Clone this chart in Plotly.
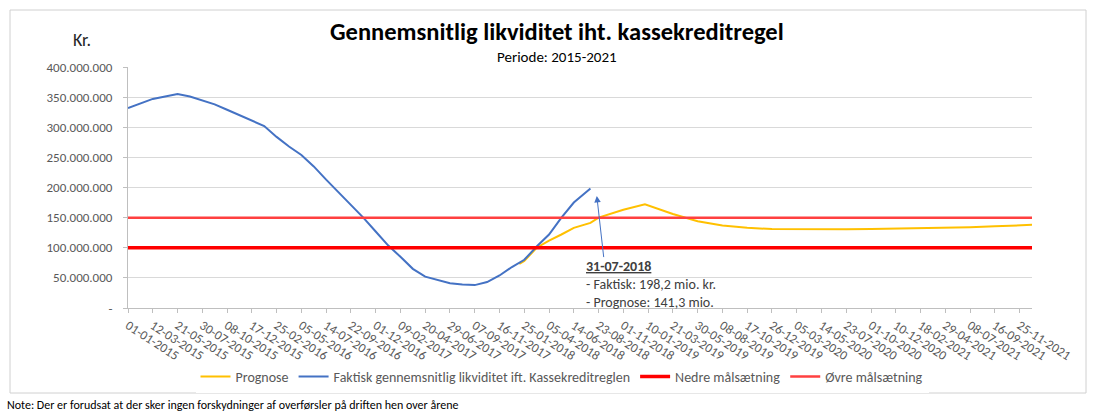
import plotly.graph_objects as go

# ---- data ----
faktisk_dates = [
    "2015-01-01", "2015-02-05", "2015-03-12", "2015-04-16", "2015-05-21", "2015-06-25",
    "2015-07-30", "2015-09-03", "2015-10-08", "2015-11-12", "2015-12-17", "2016-01-21",
    "2016-02-25", "2016-03-31", "2016-05-05", "2016-06-09", "2016-07-14", "2016-08-18",
    "2016-09-22", "2016-10-27", "2016-12-01", "2017-01-05", "2017-02-09", "2017-03-16",
    "2017-04-20", "2017-05-25", "2017-06-29", "2017-08-03", "2017-09-07", "2017-10-12",
    "2017-11-16", "2017-12-21", "2018-01-25", "2018-03-01", "2018-04-05", "2018-05-10",
    "2018-06-14", "2018-07-31",
]
faktisk_values = [
    332e6, 340e6, 347e6, 351e6, 355e6, 351e6,
    344e6, 338e6, 329e6, 320e6, 312e6, 302e6,
    284e6, 268e6, 254e6, 235e6, 213e6, 192e6,
    170e6, 150e6, 127e6, 104e6, 85e6, 65e6,
    52e6, 46e6, 41e6, 39e6, 38e6, 43e6,
    54e6, 68e6, 80e6, 102e6, 122e6, 150e6,
    175e6, 198.2e6,
]

prognose_dates = [
    "2018-01-11", "2018-01-25", "2018-03-01", "2018-04-05", "2018-05-10", "2018-06-14",
    "2018-07-31", "2018-08-23", "2018-11-01", "2019-01-01", "2019-03-21", "2019-05-30",
    "2019-08-08", "2019-10-17", "2019-12-26", "2020-03-05", "2020-05-14", "2020-07-23",
    "2020-10-01", "2020-12-10", "2021-02-18", "2021-04-29", "2021-07-08", "2021-09-16",
    "2021-11-25", "2021-12-30",
]
prognose_values = [
    73e6, 78e6, 100e6, 112e6, 122e6, 133e6,
    141.3e6, 150e6, 163e6, 172e6, 156e6, 144e6,
    137e6, 133e6, 131e6, 130.5e6, 130.5e6, 130.5e6,
    131e6, 131.5e6, 132e6, 133e6, 134e6, 135.5e6,
    137e6, 138e6,
]

maal_dates = ["2015-01-01", "2021-12-30"]
nedre_values = [100e6, 100e6]
oevre_values = [150e6, 150e6]

x_tick_labels = [
    "01-01-2015", "12-03-2015", "21-05-2015", "30-07-2015", "08-10-2015", "17-12-2015",
    "25-02-2016", "05-05-2016", "14-07-2016", "22-09-2016", "01-12-2016", "09-02-2017",
    "20-04-2017", "29-06-2017", "07-09-2017", "16-11-2017", "25-01-2018", "05-04-2018",
    "14-06-2018", "23-08-2018", "01-11-2018", "10-01-2019", "21-03-2019", "30-05-2019",
    "08-08-2019", "17-10-2019", "26-12-2019", "05-03-2020", "14-05-2020", "23-07-2020",
    "01-10-2020", "10-12-2020", "18-02-2021", "29-04-2021", "08-07-2021", "16-09-2021",
    "25-11-2021",
]
x_tick_vals = ["-".join(reversed(s.split("-"))) for s in x_tick_labels]

y_tick_vals = [0, 50e6, 100e6, 150e6, 200e6, 250e6, 300e6, 350e6, 400e6]
y_tick_labels = ["-", "50.000.000", "100.000.000", "150.000.000", "200.000.000",
                 "250.000.000", "300.000.000", "350.000.000", "400.000.000"]

FONT = "Carlito, Liberation Sans Narrow, Liberation Sans, Arial, sans-serif"

fig = go.Figure()
fig.add_trace(go.Scatter(x=prognose_dates, y=prognose_values, mode="lines", name="Prognose",
                         line=dict(color="#FFC000", width=2)))
fig.add_trace(go.Scatter(x=faktisk_dates, y=faktisk_values, mode="lines",
                         name="Faktisk gennemsnitlig likviditet ift. Kassekreditreglen",
                         line=dict(color="#4472C4", width=2)))
fig.add_trace(go.Scatter(x=maal_dates, y=nedre_values, mode="lines", name="Nedre målsætning",
                         line=dict(color="#FF0000", width=3.5)))
fig.add_trace(go.Scatter(x=maal_dates, y=oevre_values, mode="lines", name="Øvre målsætning",
                         line=dict(color="#FF4040", width=2.5)))

fig.update_layout(
    width=1095, height=412,
    margin=dict(l=128, r=63, t=67, b=104),
    paper_bgcolor="white", plot_bgcolor="white",
    font=dict(family=FONT, color="#595959", size=11),
    showlegend=True,
    legend=dict(orientation="h", x=(562 - 128) / 904, xanchor="center", y=-0.286, yanchor="middle",
                font=dict(size=14, color="#595959"), itemwidth=30, tracegroupgap=0,
                traceorder="normal"),
    xaxis=dict(type="date", range=["2015-01-01", "2021-12-30"],
               tickvals=x_tick_vals, ticktext=x_tick_labels, tickangle=33,
               tickfont=dict(size=13, color="#595959"),
               showgrid=False, showline=True, linecolor="#BFBFBF", linewidth=1,
               ticks="outside", ticklen=4, tickcolor="#BFBFBF", zeroline=False),
    yaxis=dict(range=[0, 400e6], tickvals=y_tick_vals, ticktext=y_tick_labels,
               tickfont=dict(size=13, color="#595959"), ticklabelstandoff=8,
               showgrid=True, gridcolor="#D9D9D9", gridwidth=1,
               showline=True, linecolor="#BFBFBF", linewidth=1,
               ticks="outside", ticklen=4, tickcolor="#BFBFBF", zeroline=False),
)

fig.add_annotation(xref="paper", yref="paper", x=0.4746, y=1.0 + (67 - 32) / 241,
                   text="<b>Gennemsnitlig likviditet iht. kassekreditregel</b>", showarrow=False,
                   xanchor="center", yanchor="middle",
                   font=dict(family=FONT, size=24.5, color="#000000"))
fig.add_annotation(xref="paper", yref="paper", x=0.4746, y=1.0 + (67 - 57) / 241,
                   text="Periode: 2015-2021", showarrow=False, xanchor="center", yanchor="middle",
                   font=dict(family=FONT, size=15, color="#000000"))
fig.add_annotation(xref="paper", yref="paper", x=(82 - 128) / 904, y=1.0 + (67 - 40) / 241,
                   text="Kr.", showarrow=False, xanchor="center", yanchor="middle",
                   font=dict(family=FONT, size=18, color="#262626"))

# arrow pointing at last actual value
fig.add_annotation(x="2018-08-18", y=186e6, ax="2018-09-07", ay=82e6, axref="x", ayref="y",
                   xref="x", yref="y", text="", showarrow=True, arrowhead=2, arrowsize=1.3,
                   arrowwidth=1, arrowcolor="#4472C4")
fig.add_annotation(x="2018-07-13", y=87e6, xref="x", yref="y", xanchor="left", yanchor="top",
                   align="left", showarrow=False,
                   text="<b><u>31-07-2018</u></b><br>- Faktisk: 198,2 mio. kr.<br>- Prognose: 141,3 mio.",
                   font=dict(family=FONT, size=14, color="#404040"))

fig.add_annotation(xref="paper", yref="paper", x=(5 - 128) / 904, y=(308 - 405) / 241,
                   xanchor="left", yanchor="middle", showarrow=False,
                   text="Note: Der er forudsat at der sker ingen forskydninger af overførsler på driften hen over årene",
                   font=dict(family=FONT, size=12, color="#000000"))

# chart frame
fig.add_shape(type="rect", xref="paper", yref="paper",
              x0=(10 - 128) / 904, x1=(1086 - 128) / 904,
              y0=(308 - 393) / 241, y1=1.0 + (67 - 10) / 241,
              line=dict(color="#D0D0D0", width=1), fillcolor="rgba(0,0,0,0)", layer="below")

fig.write_html("out.html", config={"displayModeBar": False},
               post_script="document.body.style.margin='0px';document.body.style.overflow='hidden';")
